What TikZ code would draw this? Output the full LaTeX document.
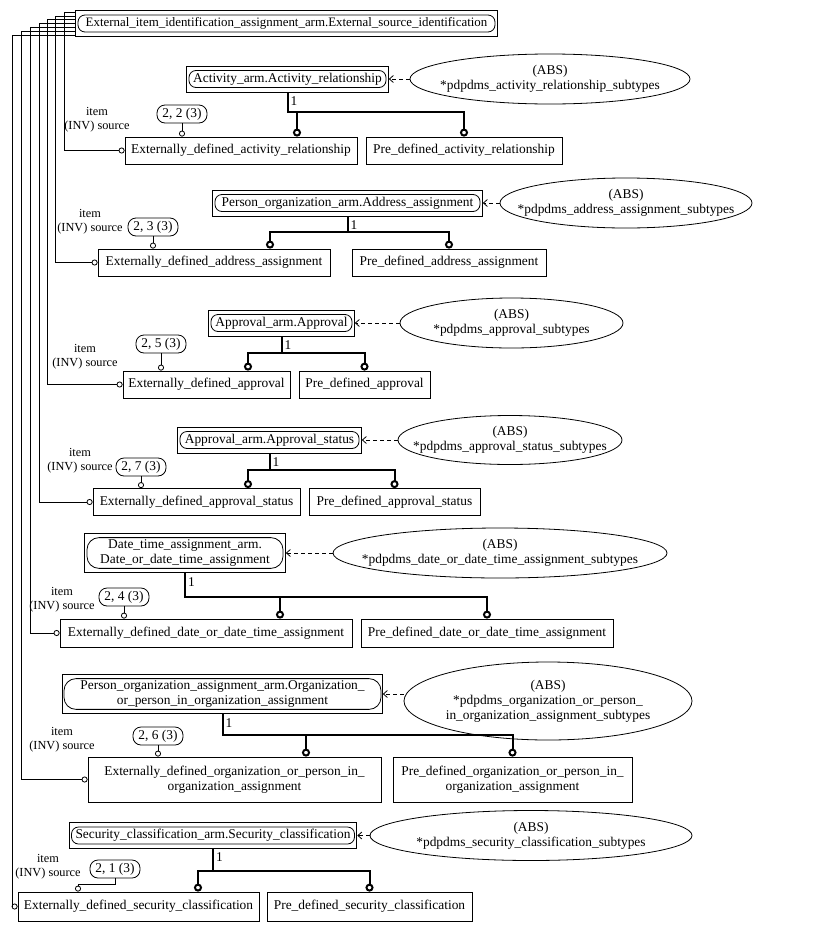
\documentclass[tikz,border=0pt]{standalone}
\usepackage{fontspec}
\setmainfont{Liberation Serif}
\usetikzlibrary{arrows.meta,shapes.geometric,fit}

\begin{document}
\begin{tikzpicture}[x=1pt,y=-1pt,
    font=\fontsize{13.4}{15}\selectfont,
    every node/.style={inner sep=0pt},
    entity/.style={draw, line width=0.8pt, minimum height=27pt, align=center},
    supname/.style={draw, line width=0.8pt, rounded corners=7pt, minimum height=17pt, inner xsep=4pt, inner ysep=2pt, align=center},
    supframe/.style={draw, line width=0.8pt, inner xsep=2pt, inner ysep=4pt},
    subtypes/.style={draw, ellipse, line width=0.8pt, inner xsep=-60pt, inner ysep=-20pt, align=center},
    tag/.style={draw, line width=0.8pt, rounded corners=8pt, minimum width=50pt, minimum height=18pt},
    role/.style={align=center, font=\fontsize{12.3}{14}\selectfont},
    rel/.style={line width=0.8pt, -{Circle[open,length=6pt,width=6pt]}},
    isa/.style={line width=2pt, -{Circle[open,length=8pt,width=8pt,line width=2pt]}},
    abs/.style={line width=0.8pt, dash pattern=on 4pt off 3pt, -{Straight Barb[length=4pt,width=7pt]}}
]
\useasboundingbox (0,0) rectangle (817,932);

\node[supname, inner xsep=2pt, minimum width=417pt, font=\fontsize{12.9}{15}\selectfont] (top) at (286.5,23.5) {External\_item\_identification\_assignment\_arm.External\_source\_identification};
\node[supframe, fit=(top)] (topbox) {};

% activity relationship
\node[supname, minimum width=197pt] (supA) at (287.5,79) {Activity\_arm.Activity\_relationship};
\node[supframe, fit=(supA)] (supAbox) {};
\node[subtypes, minimum width=280pt, minimum height=50pt] (ellA) at (550,79) {(ABS)\\*pdpdms\_activity\_relationship\_subtypes};
\node[entity, minimum width=232pt] (extA) at (241,150.5) {Externally\_defined\_activity\_relationship};
\node[entity, minimum width=196pt] (preA) at (464,150.5) {Pre\_defined\_activity\_relationship};
\node[tag] (tagA) at (182,114) {2, 2 (3)};
\node[role] (roleA) at (97,120) {item\\(INV) source};
\node[anchor=north west] (oneA) at ([xshift=3pt,yshift=-4pt]supAbox.south) {1};
\coordinate (dA) at (297,112);
\coordinate (lA) at (64,12);
\draw[isa] (supAbox.south) |- (dA) -- (dA |- extA.north);
\draw[isa] (supAbox.south) |- (preA.north |- dA) -- (preA.north);
\draw[abs] (ellA.west) -- (ellA.west -| supAbox.east);
\draw[rel] (tagA.south) -- (tagA.south |- extA.north);
\draw[rel] (topbox.west |- lA) -- (lA) |- (extA.west);

% address assignment
\node[supname, minimum width=265pt] (supB) at (347.5,203) {Person\_organization\_arm.Address\_assignment};
\node[supframe, fit=(supB)] (supBbox) {};
\node[subtypes, minimum width=252pt, minimum height=50pt] (ellB) at (626,203) {(ABS)\\*pdpdms\_address\_assignment\_subtypes};
\node[entity, minimum width=232pt] (extB) at (214,262.5) {Externally\_defined\_address\_assignment};
\node[entity, minimum width=194pt] (preB) at (449,262.5) {Pre\_defined\_address\_assignment};
\node[tag] (tagB) at (153,227) {2, 3 (3)};
\node[role] (roleB) at (90,222) {item\\(INV) source};
\node[anchor=north west] (oneB) at ([xshift=3pt,yshift=-4pt]supBbox.south) {1};
\coordinate (dB) at (270,232);
\coordinate (lB) at (55,16);
\draw[isa] (supBbox.south) |- (dB) -- (dB |- extB.north);
\draw[isa] (supBbox.south) |- (preB.north |- dB) -- (preB.north);
\draw[abs] (ellB.west) -- (ellB.west -| supBbox.east);
\draw[rel] (tagB.south) -- (tagB.south |- extB.north);
\draw[rel] (topbox.west |- lB) -- (lB) |- (extB.west);

% approval
\node[supname, minimum width=141pt] (supC) at (281.5,323) {Approval\_arm.Approval};
\node[supframe, fit=(supC)] (supCbox) {};
\node[subtypes, minimum width=223pt, minimum height=50pt] (ellC) at (511.5,323) {(ABS)\\*pdpdms\_approval\_subtypes};
\node[entity, minimum width=167pt] (extC) at (206.5,384.5) {Externally\_defined\_approval};
\node[entity, minimum width=131pt] (preC) at (364.5,384.5) {Pre\_defined\_approval};
\node[tag] (tagC) at (161,344) {2, 5 (3)};
\node[role] (roleC) at (85,357) {item\\(INV) source};
\node[anchor=north west] (oneC) at ([xshift=3pt,yshift=-4pt]supCbox.south) {1};
\coordinate (dC) at (248,353);
\coordinate (lC) at (47,19);
\draw[isa] (supCbox.south) |- (dC) -- (dC |- extC.north);
\draw[isa] (supCbox.south) |- (preC.north |- dC) -- (preC.north);
\draw[abs] (ellC.west) -- (ellC.west -| supCbox.east);
\draw[rel] (tagC.south) -- (tagC.south |- extC.north);
\draw[rel] (topbox.west |- lC) -- (lC) |- (extC.west);

% approval status
\node[supname, minimum width=179pt] (supD) at (269.5,440) {Approval\_arm.Approval\_status};
\node[supframe, fit=(supD)] (supDbox) {};
\node[subtypes, minimum width=224pt, minimum height=49pt] (ellD) at (510,440) {(ABS)\\*pdpdms\_approval\_status\_subtypes};
\node[entity, minimum width=207pt] (extD) at (196.5,502) {Externally\_defined\_approval\_status};
\node[entity, minimum width=171pt] (preD) at (394.5,502) {Pre\_defined\_approval\_status};
\node[tag] (tagD) at (141,467) {2, 7 (3)};
\node[role] (roleD) at (80,461) {item\\(INV) source};
\node[anchor=north west] (oneD) at ([xshift=3pt,yshift=-4pt]supDbox.south) {1};
\coordinate (dD) at (248,470);
\coordinate (lD) at (39,23);
\draw[isa] (supDbox.south) |- (dD) -- (dD |- extD.north);
\draw[isa] (supDbox.south) |- (preD.north |- dD) -- (preD.north);
\draw[abs] (ellD.west) -- (ellD.west -| supDbox.east);
\draw[rel] (tagD.south) -- (tagD.south |- extD.north);
\draw[rel] (topbox.west |- lD) -- (lD) |- (extD.west);

% date or date time
\node[supname, rounded corners=12pt, minimum width=196pt] (supE) at (185,553) {Date\_time\_assignment\_arm.\\Date\_or\_date\_time\_assignment};
\node[supframe, fit=(supE)] (supEbox) {};
\node[subtypes, minimum width=334pt, minimum height=50pt] (ellE) at (500,553) {(ABS)\\*pdpdms\_date\_or\_date\_time\_assignment\_subtypes};
\node[entity, minimum width=292pt, minimum height=28pt] (extE) at (206,633) {Externally\_defined\_date\_or\_date\_time\_assignment};
\node[entity, minimum width=252pt, minimum height=28pt] (preE) at (487,633) {Pre\_defined\_date\_or\_date\_time\_assignment};
\node[tag] (tagE) at (124,597) {2, 4 (3)};
\node[role] (roleE) at (62,600) {item\\(INV) source};
\node[anchor=north west] (oneE) at ([xshift=3pt,yshift=-4pt]supEbox.south) {1};
\coordinate (dE) at (280,597);
\coordinate (lE) at (30,27);
\draw[isa] (supEbox.south) |- (dE) -- (dE |- extE.north);
\draw[isa] (supEbox.south) |- (preE.north |- dE) -- (preE.north);
\draw[abs] (ellE.west) -- (ellE.west -| supEbox.east);
\draw[rel] (tagE.south) -- (tagE.south |- extE.north);
\draw[rel] (topbox.west |- lE) -- (lE) |- (extE.west);

% organization or person in organization
\node[supname, rounded corners=12pt, minimum width=317pt] (supF) at (222.5,694) {Person\_organization\_assignment\_arm.Organization\_\\or\_person\_in\_organization\_assignment};
\node[supframe, inner xsep=1pt, fit=(supF)] (supFbox) {};
\node[subtypes, minimum width=288pt, minimum height=78pt] (ellF) at (548,701) {(ABS)\\*pdpdms\_organization\_or\_person\_\\in\_organization\_assignment\_subtypes};
\node[entity, minimum width=293pt, minimum height=45pt] (extF) at (234.5,779.5) {Externally\_defined\_organization\_or\_person\_in\_\\organization\_assignment};
\node[entity, minimum width=239pt, minimum height=45pt] (preF) at (512.5,779.5) {Pre\_defined\_organization\_or\_person\_in\_\\organization\_assignment};
\node[tag] (tagF) at (158,736) {2, 6 (3)};
\node[role] (roleF) at (62,740) {item\\(INV) source};
\node[anchor=north west] (oneF) at ([xshift=3pt,yshift=-4pt]supFbox.south) {1};
\coordinate (dF) at (306,735);
\coordinate (lF) at (21,31);
\draw[isa] (supFbox.south) |- (dF) -- (dF |- extF.north);
\draw[isa] (supFbox.south) |- (preF.north |- dF) -- (preF.north);
\draw[abs] (ellF.west |- supFbox.east) -- (supFbox.east);
\draw[rel] (tagF.south) -- (tagF.south |- extF.north);
\draw[rel] (topbox.west |- lF) -- (lF) |- (extF.west);

% security classification
\node[supname, minimum width=282pt] (supG) at (213,835.5) {Security\_classification\_arm.Security\_classification};
\node[supframe, fit=(supG)] (supGbox) {};
\node[subtypes, minimum width=322pt, minimum height=50pt] (ellG) at (531,835.5) {(ABS)\\*pdpdms\_security\_classification\_subtypes};
\node[entity, minimum width=241pt, minimum height=29pt] (extG) at (138.5,906.5) {Externally\_defined\_security\_classification};
\node[entity, minimum width=205pt, minimum height=29pt] (preG) at (369.5,906.5) {Pre\_defined\_security\_classification};
\node[tag] (tagG) at (115,869) {2, 1 (3)};
\node[role] (roleG) at (48,867) {item\\(INV) source};
\node[anchor=north west] (oneG) at ([xshift=3pt,yshift=-4pt]supGbox.south) {1};
\coordinate (dG) at (198,871);
\coordinate (lG) at (12,35);
\coordinate (cG) at (78,884);
\draw[isa] (supGbox.south) |- (dG) -- (dG |- extG.north);
\draw[isa] (supGbox.south) |- (preG.north |- dG) -- (preG.north);
\draw[abs] (ellG.west) -- (ellG.west -| supGbox.east);
\draw[rel] (tagG.south) |- (cG) -- (cG |- extG.north);
\draw[rel] (topbox.west |- lG) -- (lG) |- (extG.west);
\end{tikzpicture}
\end{document}
